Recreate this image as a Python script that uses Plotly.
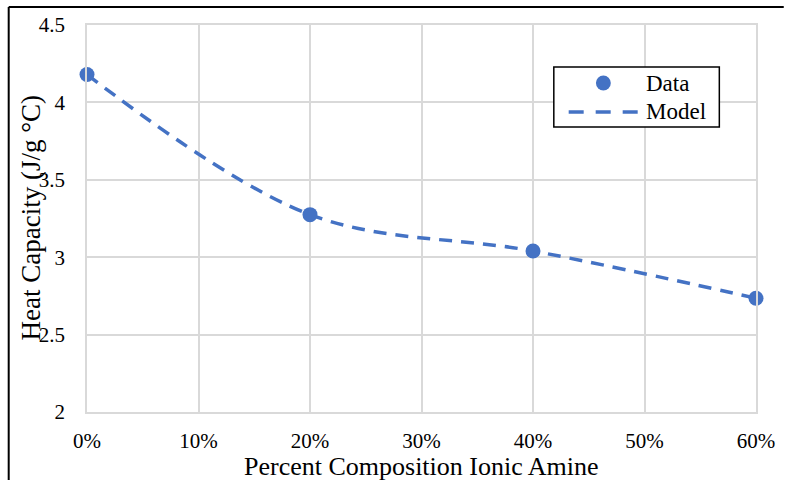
import plotly.graph_objects as go

# Data
composition = [0.0, 0.2, 0.4, 0.6]
heat_capacity = [4.18, 3.275, 3.04, 2.735]
model_x = [0.0, 0.2, 0.4, 0.6]
model_y = [4.18, 3.275, 3.04, 2.735]
x_ticks = [0.0, 0.1, 0.2, 0.3, 0.4, 0.5, 0.6]
y_ticks = [2, 2.5, 3, 3.5, 4, 4.5]

BLUE = "#4472C4"
GRID = "#d9d9d9"
FONT = "Liberation Serif, Times New Roman, serif"

W, H = 787, 480
L, R, T, B = 87, 25, 25, 68
pw, ph = W - L - R, H - T - B

def px(xp):
    return (xp - L) / pw

def py(yp):
    return 1 - (yp - T) / ph

fig = go.Figure()
fig.add_trace(go.Scatter(
    x=model_x, y=model_y, mode="lines", name="Model",
    line=dict(color=BLUE, width=3.5, dash="13px,9px", shape="spline", smoothing=1.0),
    showlegend=False, cliponaxis=False,
))
fig.add_trace(go.Scatter(
    x=composition, y=heat_capacity, mode="markers", name="Data",
    marker=dict(color=BLUE, size=15),
    showlegend=False, cliponaxis=False,
))

shapes = [
    # figure frame (left and top)
    dict(type="line", xref="paper", yref="paper", x0=px(8), x1=px(8), y0=py(7), y1=py(482),
         line=dict(color="black", width=2)),
    dict(type="line", xref="paper", yref="paper", x0=px(8), x1=px(790), y0=py(7), y1=py(7),
         line=dict(color="black", width=2)),
    # legend box
    dict(type="rect", xref="paper", yref="paper", x0=px(558), x1=px(725), y0=py(67), y1=py(127),
         line=dict(color="black", width=1.5), fillcolor="white", layer="above"),
    dict(type="line", xref="paper", yref="paper", x0=px(573), x1=px(643), y0=py(112), y1=py(112),
         line=dict(color=BLUE, width=3.5, dash="15px,12px"), layer="above"),
    dict(type="circle", xref="paper", yref="paper", x0=px(600.5), x1=px(615.5), y0=py(90.5), y1=py(75.5),
         line=dict(color=BLUE, width=0), fillcolor=BLUE, layer="above"),
]

annotations = [
    dict(text="Data", xref="paper", yref="paper", x=px(649), y=py(83), xanchor="left", yanchor="middle",
         showarrow=False, font=dict(family=FONT, size=23, color="black")),
    dict(text="Model", xref="paper", yref="paper", x=px(649), y=py(112), xanchor="left", yanchor="middle",
         showarrow=False, font=dict(family=FONT, size=23, color="black")),
    dict(text="Heat Capacity (J/g °C)", xref="paper", yref="paper", x=px(30), y=py(218),
         xanchor="center", yanchor="middle", textangle=-90, showarrow=False,
         font=dict(family=FONT, size=27, color="black")),
    dict(text="Percent Composition Ionic Amine", xref="paper", yref="paper", x=px(424), y=py(466),
         xanchor="center", yanchor="middle", showarrow=False,
         font=dict(family=FONT, size=26, color="black")),
]

fig.update_layout(
    width=W, height=H,
    margin=dict(l=L, r=R, t=T, b=B),
    paper_bgcolor="white", plot_bgcolor="white",
    font=dict(family=FONT, size=21, color="black"),
    shapes=shapes, annotations=annotations,
    showlegend=False,
)
fig.update_xaxes(
    range=[0, 0.6], tickvals=x_ticks, tickformat=".0%",
    showgrid=True, gridcolor=GRID, gridwidth=1.5,
    showline=True, linecolor=GRID, linewidth=1.5, mirror=True,
    ticks="outside", ticklen=9, tickcolor="rgba(0,0,0,0)",
    zeroline=False, tickfont=dict(family=FONT, size=21, color="black"),
)
fig.update_yaxes(
    range=[2, 4.5], tickvals=y_ticks,
    showgrid=True, gridcolor=GRID, gridwidth=1.5,
    showline=True, linecolor=GRID, linewidth=1.5, mirror=True,
    ticks="outside", ticklen=16, tickcolor="rgba(0,0,0,0)",
    zeroline=False, tickfont=dict(family=FONT, size=21, color="black"),
)

fig.write_html(
    "out.html",
    config={"displayModeBar": False},
    post_script="document.body.style.margin='0';document.body.style.overflow='hidden';",
)
